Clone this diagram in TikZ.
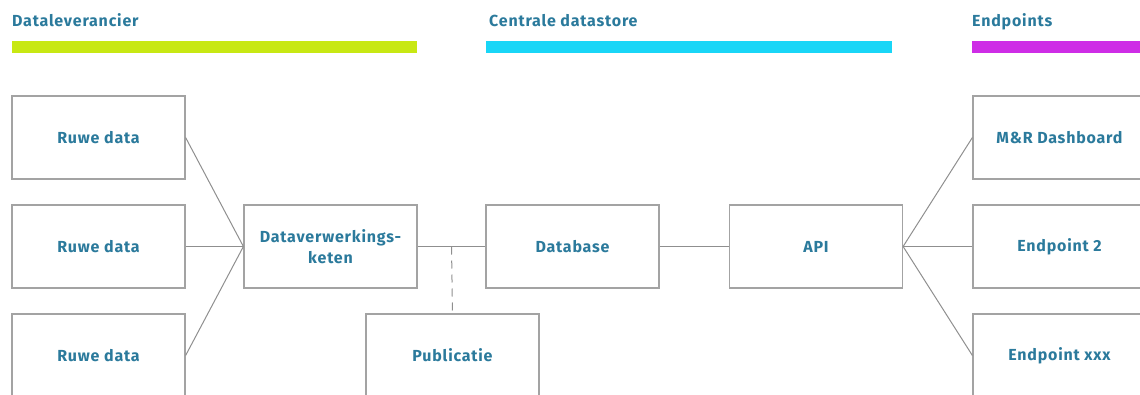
\documentclass[tikz,border=0pt]{standalone}
\usepackage{fontspec}
\setmainfont{Fira Sans}
\newfontfamily\blockfont[LetterSpace=5]{Fira Sans}
\usepackage{tikz}
\usetikzlibrary{calc}
\definecolor{Label}{HTML}{2B7A9C}
\definecolor{Frame}{HTML}{A3A3A3}
\definecolor{Wire}{HTML}{8F8F8F}
\definecolor{Lime}{HTML}{C8E813}
\definecolor{Sky}{HTML}{19D6F7}
\definecolor{Magenta}{HTML}{CE2DE6}
\tikzset{
  block/.style={draw=Frame,line width=1.2pt,fill=white,minimum width=173pt,minimum height=83pt,
    align=center,text=Label,font=\blockfont\fontsize{16}{21}\selectfont\bfseries,inner sep=0pt},
  head/.style={anchor=base west,text=Label,font=\blockfont\fontsize{16}{19}\selectfont\bfseries,inner sep=0pt},
  link/.style={draw=Wire,line width=1pt},
  dashlink/.style={link,dash pattern=on 8pt off 6pt}
}
\begin{document}
\begin{tikzpicture}[x=1pt,y=-1pt]
  \useasboundingbox (0,0) rectangle (1140,394);
  \clip (0,0) rectangle (1140,394);
  % kolomkoppen
  \node[head] (hLev) at (12,26.5) {Dataleverancier};
  \node[head] (hStore) at (489,26.5) {Centrale datastore};
  \node[head] (hEnd) at (972,26.5) {Endpoints};
  \fill[Lime] (12,41) rectangle (417,53);
  \fill[Sky] (486,41) rectangle (892,53);
  \fill[Magenta] (972,41) rectangle (1140,53);
  % blokken
  \node[block] (raw1) at (98.5,137.5) {Ruwe data};
  \node[block] (raw2) at (98.5,246.5) {Ruwe data};
  \node[block] (raw3) at (98.5,355.5) {Ruwe data};
  \node[block] (chain) at (330.5,246.5) {Dataverwerkings-\\keten};
  \node[block] (db) at (572.5,246.5) {Database};
  \node[block] (api) at (816,246.5) {API};
  \node[block] (pub) at (452.5,355.5) {Publicatie};
  \node[block] (ep1) at (1059.5,137.5) {M\&R Dashboard};
  \node[block] (ep2) at (1059.5,246.5) {Endpoint 2};
  \node[block] (ep3) at (1059.5,355.5) {Endpoint xxx};
  % verbindingen
  \foreach \r in {raw1,raw2,raw3}
    \draw[link] (\r.east) -- (chain.west);
  \draw[link] (chain.east) -- (db.west);
  \coordinate (split) at ($(chain.east)!0.5!(db.west)$);
  \draw[dashlink] (split) -- (pub.north);
  \draw[link] (db.east) -- (api.west);
  \foreach \e in {ep1,ep2,ep3}
    \draw[link] (api.east) -- (\e.west);
\end{tikzpicture}
\end{document}
